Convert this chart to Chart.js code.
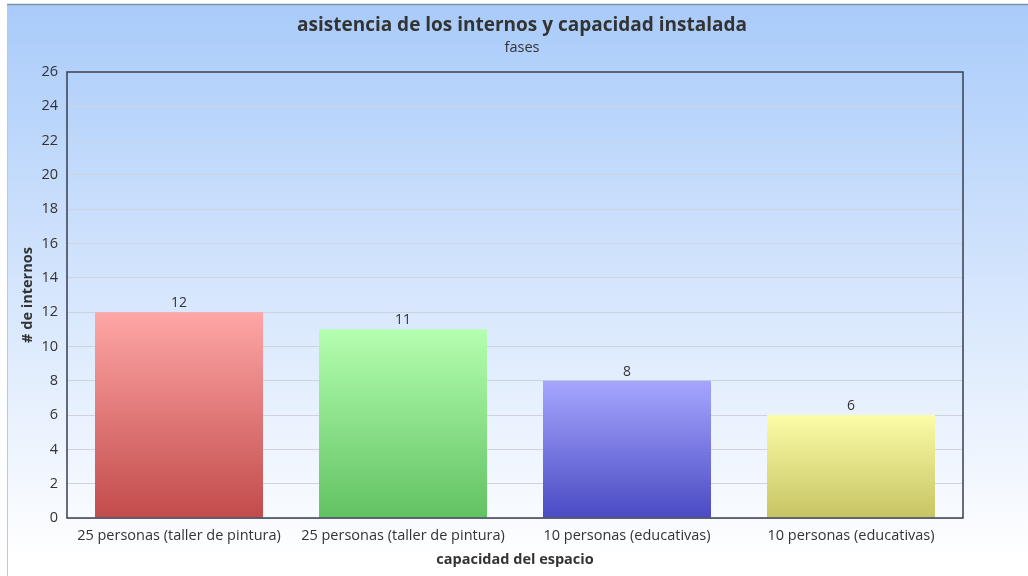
<!DOCTYPE html>
<html>
<head>
<meta charset="utf-8">
<script src="https://cdn.jsdelivr.net/npm/chart.js@4"></script>
<style>
    html, body { margin: 0; padding: 0; background: #fff; }
    #wrap { width: 1028px; height: 576px; }
</style>
</head>
<body>
<div id="wrap"><canvas id="asistenciaChart"></canvas></div>
<script>
// ===========================
// Data
// ===========================

const chartTitle = 'asistencia de los internos y capacidad instalada';
const chartSubtitle = 'fases';
const categories = [
    '25 personas (taller de pintura)',
    '25 personas (taller de pintura)',
    '10 personas (educativas)',
    '10 personas (educativas)'
];
const internos = [12, 11, 8, 6];
const yTicks = [0, 2, 4, 6, 8, 10, 12, 14, 16, 18, 20, 22, 24, 26];

// bar gradient colours (top, bottom)
const barTop = ['#ffa6a6', '#b4ffb0', '#a6a6ff', '#fcfca8'];
const barBottom = ['#c24b4b', '#62c262', '#4a4ac4', '#c6c462'];

const FONT = '"Open Sans", sans-serif';
const TEXT = '#333333';

// ===========================
// Plugins
// ===========================

const backgroundPlugin = {
    id: 'pageBackground',
    beforeDraw(chart) {
        const c = chart.ctx;
        c.save();
        c.fillStyle = '#ffffff';
        c.fillRect(0, 0, chart.width, chart.height);
        const g = c.createLinearGradient(0, 4, 0, 560);
        g.addColorStop(0, '#a9cbfa');
        g.addColorStop(1, '#ffffff');
        c.fillStyle = g;
        c.fillRect(7, 4, chart.width - 7, chart.height - 4);
        // outer frame
        c.strokeStyle = '#c4c8cc';
        c.lineWidth = 1;
        c.beginPath();
        c.moveTo(7.5, chart.height);
        c.lineTo(7.5, 4.5);
        c.stroke();
        c.strokeStyle = '#7c94a8';
        c.lineWidth = 1.5;
        c.beginPath();
        c.moveTo(7, 4.5);
        c.lineTo(chart.width, 4.5);
        c.stroke();

        // title + subtitle
        c.fillStyle = TEXT;
        c.textAlign = 'center';
        c.textBaseline = 'middle';
        c.font = 'bold 19px ' + FONT;
        c.fillText(chartTitle, 522, 26);
        c.font = '14.5px ' + FONT;
        c.fillText(chartSubtitle, 522, 48);
        c.restore();
    }
};

const frameAndLabelsPlugin = {
    id: 'frameAndLabels',
    afterDatasetsDraw(chart) {
        const c = chart.ctx;
        const area = chart.chartArea;
        c.save();
        c.strokeStyle = '#3a3e52';
        c.lineWidth = 1.5;
        c.strokeRect(area.left, area.top, area.right - area.left, area.bottom - area.top);

        c.fillStyle = TEXT;
        c.font = '14px ' + FONT;
        c.textAlign = 'center';
        c.textBaseline = 'middle';
        chart.getDatasetMeta(0).data.forEach((bar, i) => {
            c.fillText(String(internos[i]), bar.x, bar.y - 9);
        });
        c.restore();
    }
};

function barGradient(context) {
    const chart = context.chart;
    const i = context.dataIndex;
    if (!chart.chartArea || !chart.scales.y) return barTop[i];
    const yScale = chart.scales.y;
    const top = yScale.getPixelForValue(internos[i]);
    const bottom = yScale.getPixelForValue(0);
    const g = chart.ctx.createLinearGradient(0, top, 0, bottom);
    g.addColorStop(0, barTop[i]);
    g.addColorStop(1, barBottom[i]);
    return g;
}

// ===========================
// Chart
// ===========================

new Chart(document.getElementById('asistenciaChart'), {
    type: 'bar',
    data: {
        labels: categories,
        datasets: [{
            label: '# de internos',
            data: internos,
            backgroundColor: barGradient,
            borderWidth: 0,
            barPercentage: 0.75,
            categoryPercentage: 1.0
        }]
    },
    options: {
        responsive: true,
        maintainAspectRatio: false,
        animation: false,
        layout: {
            padding: { top: 72, left: 14, right: 65, bottom: 7 }
        },
        plugins: {
            legend: { display: false },
            tooltip: { enabled: false },
            title: { display: false },
            subtitle: { display: false }
        },
        scales: {
            x: {
                afterFit(axis) { axis.height = 51; },
                grid: { display: false, drawTicks: false },
                border: { display: false },
                ticks: {
                    color: TEXT,
                    font: { family: FONT, size: 14.5 },
                    padding: 9,
                    maxRotation: 0,
                    autoSkip: false
                },
                title: {
                    display: true,
                    text: 'capacidad del espacio',
                    color: TEXT,
                    font: { family: FONT, size: 14.5, weight: 'bold' },
                    padding: { top: 4, bottom: 0 }
                }
            },
            y: {
                min: 0,
                max: yTicks[yTicks.length - 1],
                afterBuildTicks(axis) {
                    axis.ticks = yTicks.map(v => ({ value: v }));
                },
                afterFit(axis) { axis.width = 53; },
                grid: { color: '#cfd4dc', lineWidth: 1, drawTicks: false },
                border: { display: false },
                ticks: {
                    color: TEXT,
                    font: { family: FONT, size: 14.5 },
                    padding: 9
                },
                title: {
                    display: true,
                    text: '# de internos',
                    color: TEXT,
                    font: { family: FONT, size: 14.5, weight: 'bold' },
                    padding: { top: 5, bottom: 4 }
                }
            }
        }
    },
    plugins: [backgroundPlugin, frameAndLabelsPlugin]
});
</script>
</body>
</html>
